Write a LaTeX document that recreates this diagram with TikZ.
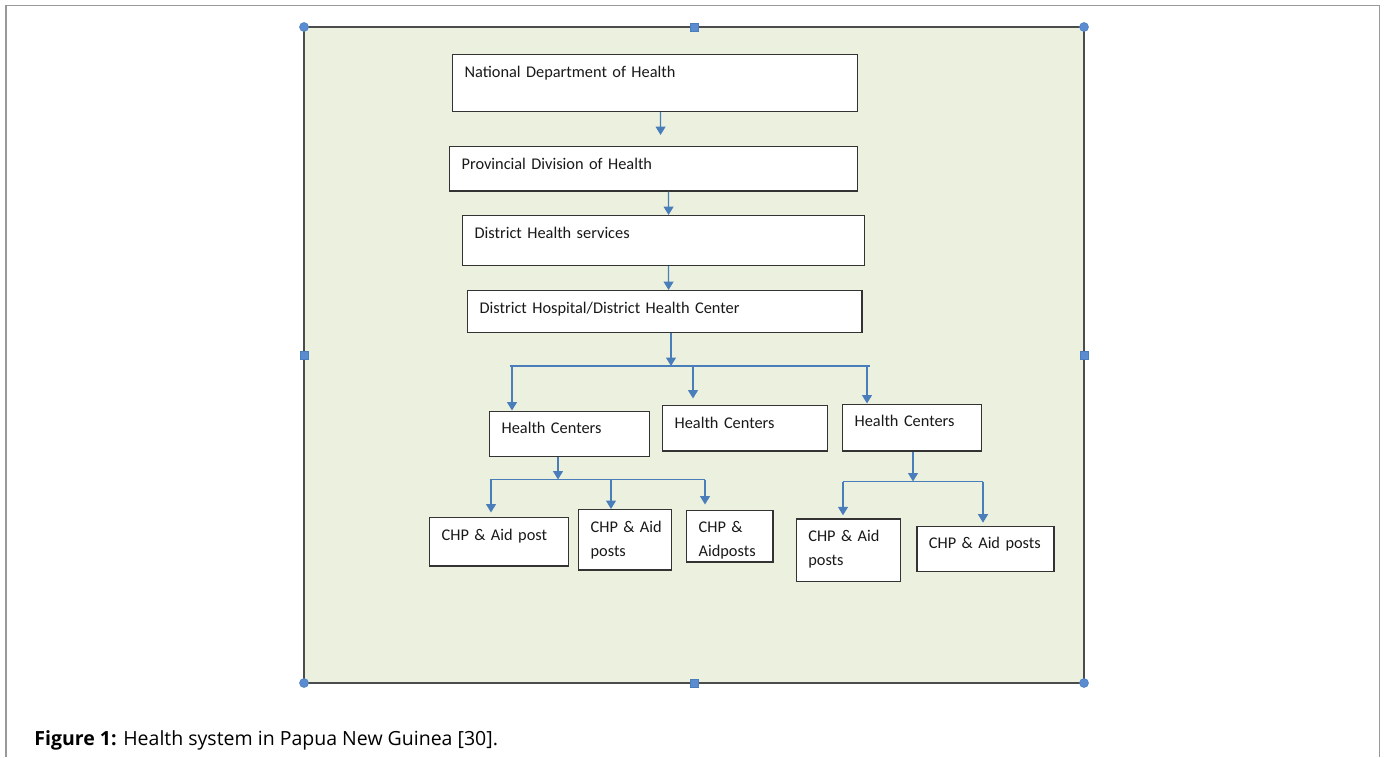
\documentclass[tikz,border=0pt]{standalone}
\usepackage{fontspec}
\setmainfont{Carlito}
\newfontfamily\capfont{Open Sans}
\usetikzlibrary{positioning}
\usetikzlibrary{arrows.meta}
\definecolor{panelgreen}{HTML}{EBF1DE}
\definecolor{linkblue}{HTML}{4A7EBB}
\definecolor{handleblue}{HTML}{5B8BD0}

\begin{document}
\begin{tikzpicture}[x=0.02cm, y=-0.02cm,
		unit/.style={draw=black!80, line width=0.7pt, fill=white, text=black!90, anchor=north west, inner xsep=0.24cm, inner ysep=0pt, align=left, text height=0.45cm, font=\fontsize{9.3}{13.6}\selectfont},
		link/.style={draw=linkblue, line width=0.75pt, -{Triangle[width=0.2cm, length=0.17cm]}},
		wire/.style={draw=linkblue, line width=0.75pt}]
		\useasboundingbox (0,0) rectangle (1385,757);
		\draw[black!40, line width=0.7pt] (6,757) -- (6,5.5) -- (1379.5,5.5) -- (1379.5,757);
		\filldraw[fill=panelgreen, draw=black!70, line width=0.85pt] (304,27) rectangle (1084,683);
		\foreach \hx/\hy in {304/27, 1084/27, 304/683, 1084/683}
			\filldraw[fill=handleblue, draw=linkblue, line width=0.3pt] (\hx,\hy) circle (0.09cm);
		\foreach \hx/\hy in {694/27, 694/683, 304/355, 1084/355}
			\filldraw[fill=handleblue, draw=linkblue, line width=0.3pt] (\hx-4,\hy-4) rectangle (\hx+4,\hy+4);

		\node (ndoh) [unit, text width=7.62cm, text depth=0.69cm] at (452,54) {National Department of Health};
		\node (pdoh) [unit, text width=7.68cm, text depth=0.44cm] at (449,146) {Provincial Division of Health};
		\node (dhs) [unit, text width=7.56cm, text depth=0.55cm] at (462,215) {District Health services};
		\node (dhosp) [unit, text width=7.41cm, text depth=0.39cm] at (467,290) {District Hospital/District Health Center};
		\node (hc1) [unit, text width=2.72cm, text depth=0.46cm] at (489,410.5) {Health Centers};
		\node (hc2) [unit, text width=2.82cm, text depth=0.46cm] at (662,405) {Health Centers};
		\node (hc3) [unit, text width=2.30cm, text depth=0.49cm] at (842,403.5) {Health Centers};
		\node (chp1) [unit, text width=2.30cm, text depth=0.52cm] at (429,517) {CHP \& Aid post};
		\node (chp2) [unit, text width=1.38cm, text depth=0.76cm] at (578,509) {CHP~\&~Aid\\posts};
		\node (chp3) [unit, text width=1.25cm, text depth=0.59cm] at (686,509.5) {CHP~\&\\Aidposts};
		\node (chp4) [unit, text width=1.61cm, text depth=0.80cm] at (795.7,518.3) {CHP~\&~Aid\\posts};
		\node (chp5) [unit, text width=2.26cm, text depth=0.45cm] at (916.3,525.7) {CHP~\&~Aid~posts};

		\coordinate (b1) at (671,366);
		\coordinate (b1w) at (512,366);
		\coordinate (b1m) at (693,366);
		\coordinate (b1e) at (867,366);
		\coordinate (b2) at (558,479.5);
		\coordinate (b2w) at (491,479.5);
		\coordinate (b2m) at (611,479.5);
		\coordinate (b2e) at (705,479.5);
		\coordinate (b3) at (913,481.5);
		\coordinate (b3w) at (843,481.5);
		\coordinate (b3e) at (983,481.5);

		\draw[link, shorten >=0.22cm] ([xshift=0.11cm]ndoh.south) -- ([xshift=0.14cm]pdoh.north);
		\draw[link] ([xshift=0.30cm]pdoh.south) -- ([xshift=0.10cm]dhs.north);
		\draw[link] ([xshift=0.10cm]dhs.south) -- ([xshift=0.075cm]dhosp.north);
		\draw[link] (b1 |- dhosp.south) -- (b1);
		\draw[wire] ([xshift=-0.05cm]b1w) -- ([xshift=0.06cm]b1e);
		\draw[link] (b1w) -- (b1w |- hc1.north);
		\draw[link, shorten >=0.13cm] (b1m) -- (b1m |- hc2.north);
		\draw[link] (b1e) -- (b1e |- hc3.north);
		\draw[link] (b2 |- hc1.south) -- (b2);
		\draw[wire] ([xshift=-0.03cm]b2w) -- (b2e);
		\draw[link, shorten >=0.09cm] (b2w) -- (b2w |- chp1.north);
		\draw[link] (b2m) -- (b2m |- chp2.north);
		\draw[link, shorten >=0.1cm] (b2e) -- (b2e |- chp3.north);
		\draw[link] (b3 |- hc3.south) -- (b3);
		\draw[wire] (b3w) -- (b3e);
		\draw[link, shorten >=0.06cm] (b3w) -- (b3w |- chp4.north);
		\draw[link, shorten >=0.06cm] (b3e) -- (b3e |- chp5.north);

		\node (caption) [anchor=base west, inner sep=0pt, font=\capfont\fontsize{11.1}{13}\selectfont] at (34,745) {\textbf{Figure 1:} Health system in Papua New Guinea [30].};
	\end{tikzpicture}
\end{document}
